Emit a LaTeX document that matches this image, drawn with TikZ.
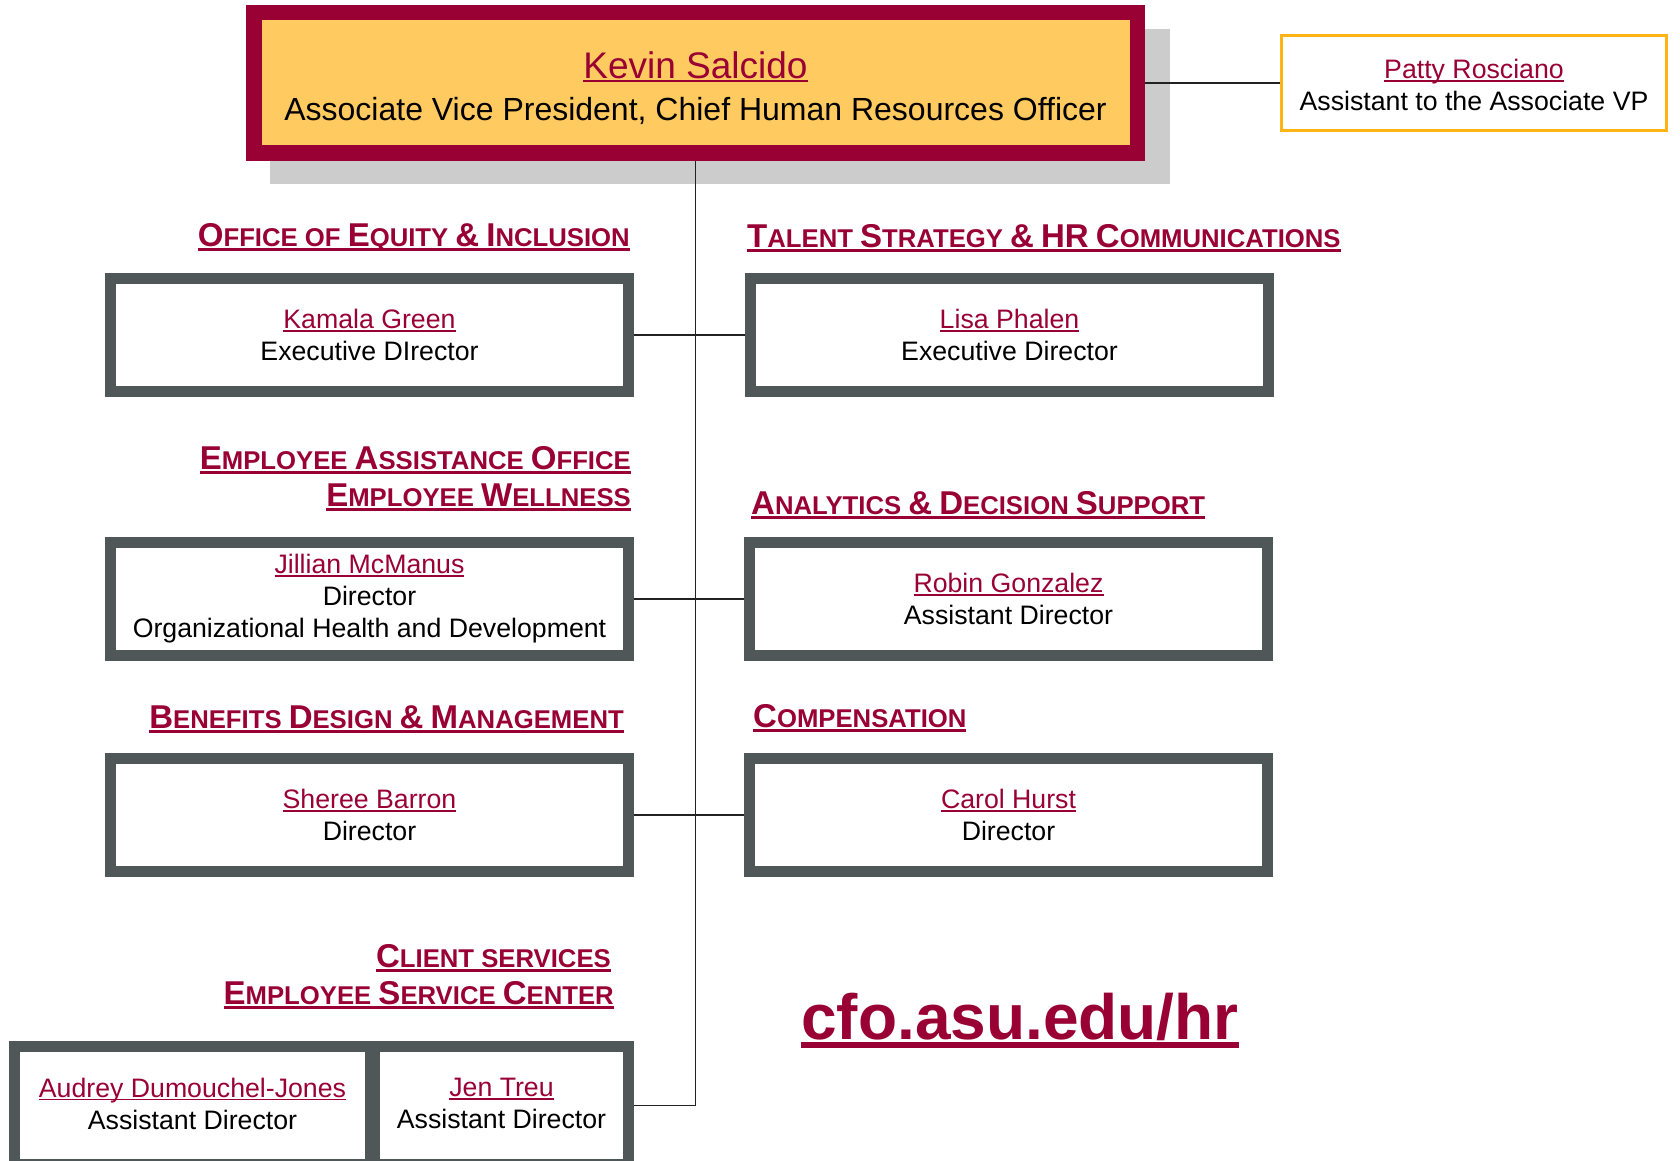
\documentclass[tikz,border=0pt]{standalone}
\usepackage{fontspec}
\setmainfont{Liberation Sans}
\definecolor{maroon}{HTML}{990033}
\definecolor{boxgray}{HTML}{505759}
\definecolor{topyellow}{HTML}{FFCA60}
\definecolor{shadowgray}{HTML}{CCCCCC}
\definecolor{pattyorange}{HTML}{FFB414}
\definecolor{linegray}{HTML}{222222}
\newlength\ulw
\newcommand\myul[3]{\settowidth\ulw{#3}\rlap{\rule[-#1]{\ulw}{#2}}#3}
\newcommand\nm[1]{\textcolor{maroon}{\myul{3pt}{1.5pt}{#1}}}
\newcommand\hB[1]{{\fontsize{33}{40}\selectfont #1}}
\newcommand\hS[1]{{\fontsize{25.7}{30}\selectfont #1}}
\begin{document}
\begin{tikzpicture}[x=1pt,y=-1pt,
  orgbox/.style={draw=boxgray, line width=11pt, minimum width=518pt, minimum height=113pt,
    align=center, font=\fontsize{26.7}{32}\selectfont, inner sep=0pt},
  heading/.style={font=\bfseries, text=maroon, inner sep=0pt},
  conn/.style={draw=linegray, line width=1.3pt}
]
\useasboundingbox (0,0) rectangle (1680,1161);
% shadow and top box
\fill[shadowgray] (270,29) rectangle (1170,184);
\node[draw=maroon, fill=topyellow, line width=15.5pt, minimum width=883.5pt, minimum height=140.5pt,
  inner sep=0pt] (top) at (695.5,83) {};
\node[align=center, inner sep=0pt, font=\fontsize{32}{42}\selectfont] (toptext) at (695.5,88)
  {{\fontsize{37}{42}\selectfont\textcolor{maroon}{\myul{4pt}{2pt}{Kevin Salcido}}}\\Associate Vice President, Chief Human Resources Officer};
% assistant
\node[draw=pattyorange, line width=3pt, minimum width=385pt, minimum height=95pt, inner sep=0pt] (patty) at (1474,83) {};
\node[align=center, inner sep=0pt, font=\fontsize{26.7}{32}\selectfont] (pattytext) at (1474,85)
  {\nm{Patty Rosciano}\\Assistant to the Associate VP};
% boxes
\node[orgbox] (kamala) at (369.5,335) {\nm{Kamala Green}\\Executive DIrector};
\node[orgbox] (lisa) at (1009.5,335) {\nm{Lisa Phalen}\\Executive Director};
\node[orgbox] (jillian) at (369.5,599) {\nm{Jillian McManus}\\Director\\Organizational Health and Development};
\node[orgbox] (robin) at (1008.5,599) {\nm{Robin Gonzalez}\\Assistant Director};
\node[orgbox] (sheree) at (369.5,815) {\nm{Sheree Barron}\\Director};
\node[orgbox] (carol) at (1008.5,815) {\nm{Carol Hurst}\\Director};
\node[orgbox, minimum width=360pt, minimum height=118pt] (audrey) at (194.5,1105.5) {};
\node[orgbox, minimum width=258pt, minimum height=118pt] (jen) at (499.5,1105.5) {};
\node[align=center, inner sep=0pt, font=\fontsize{26.7}{32}\selectfont] (audreytext) at (192.5,1103.5)
  {\nm{Audrey Dumouchel-Jones}\\Assistant Director};
\node[align=center, inner sep=0pt, font=\fontsize{26.7}{32}\selectfont] (jentext) at (501.5,1103.5)
  {\nm{Jen Treu}\\Assistant Director};
% connectors
\draw[conn] (top.east) -- (patty.west);
\draw[conn] (top.south) |- (jen.east);
\draw[conn] (kamala.east) -- (lisa.west);
\draw[conn] (jillian.east) -- (robin.west);
\draw[conn] (sheree.east) -- (carol.west);
% headings
\node[heading, anchor=base east] (h1) at (630,246)
  {\myul{4.5pt}{2.7pt}{\hB{O}\hS{FFICE OF }\hB{E}\hS{QUITY }\hB{\&}\hS{ }\hB{I}\hS{NCLUSION}}};
\node[heading, anchor=base west] (h2) at (747,247)
  {\myul{4.5pt}{2.7pt}{\hB{T}\hS{ALENT }\hB{S}\hS{TRATEGY }\hB{\&}\hS{ }\hB{HR}\hS{ }\hB{C}\hS{OMMUNICATIONS}}};
\node[heading, anchor=base east] (h3) at (631,469)
  {\myul{4.5pt}{2.7pt}{\hB{E}\hS{MPLOYEE }\hB{A}\hS{SSISTANCE }\hB{O}\hS{FFICE}}};
\node[heading, anchor=base east] (h4) at (631,506)
  {\myul{4.5pt}{2.7pt}{\hB{E}\hS{MPLOYEE }\hB{W}\hS{ELLNESS}}};
\node[heading, anchor=base west] (h5) at (751,514)
  {\myul{4.5pt}{2.7pt}{\hB{A}\hS{NALYTICS }\hB{\&}\hS{ }\hB{D}\hS{ECISION }\hB{S}\hS{UPPORT}}};
\node[heading, anchor=base east] (h6) at (624,728)
  {\myul{4.5pt}{2.7pt}{\hB{B}\hS{ENEFITS }\hB{D}\hS{ESIGN }\hB{\&}\hS{ }\hB{M}\hS{ANAGEMENT}}};
\node[heading, anchor=base west] (h7) at (753,727)
  {\myul{4.5pt}{2.7pt}{\hB{C}\hS{OMPENSATION}}};
\node[heading, anchor=base east] (h8) at (611,967)
  {\myul{4.5pt}{2.7pt}{\hB{C}\hS{LIENT SERVICES}}};
\node[heading, anchor=base east] (h9) at (614,1004)
  {\myul{4.5pt}{2.7pt}{\hB{E}\hS{MPLOYEE }\hB{S}\hS{ERVICE }\hB{C}\hS{ENTER}}};
% url
\node[font=\fontsize{64}{70}\selectfont\bfseries, text=maroon, inner sep=0pt, anchor=base west] (url) at (801,1039)
  {\myul{9pt}{6pt}{cfo.asu.edu/hr}};
\end{tikzpicture}
\end{document}
